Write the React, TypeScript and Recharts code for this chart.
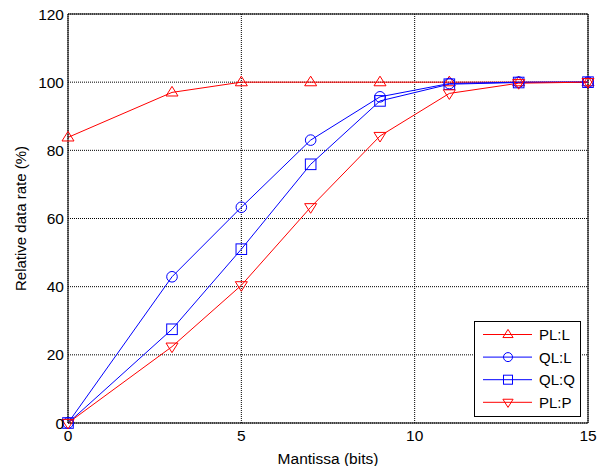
import React from "react";
import {
  CartesianGrid,
  Line,
  LineChart,
  ReferenceLine,
  XAxis,
  YAxis,
} from "recharts";

const mantissa = [0, 3, 5, 7, 9, 11, 13, 15];
const plL = [83.8, 97.0, 100, 100, 100, 100, 100, 100];
const qlL = [0, 42.9, 63.3, 83.0, 95.7, 99.6, 100, 100];
const qlQ = [0, 27.5, 51.0, 75.9, 94.5, 99.4, 99.9, 100];
const plP = [0, 22.4, 40.4, 63.3, 84.2, 96.7, 99.7, 100];

const xTicks = [0, 5, 10, 15];
const yTicks = [0, 20, 40, 60, 80, 100, 120];

const RED = "#ff0000";
const BLUE = "#0000ff";
const FONT = "'Liberation Sans', Arial, sans-serif";
const FS = 15.5;

const data = mantissa.map((m, i) => ({
  m,
  plL: plL[i],
  qlL: qlL[i],
  qlQ: qlQ[i],
  plP: plP[i],
}));

type Shape = "up" | "circle" | "square" | "down";

function marker(shape: Shape, cx: number, cy: number, color: string, key?: React.Key, s = 1) {
  const r = 6 * s;
  const common = { fill: "none", stroke: color, strokeWidth: 1 };
  if (shape === "circle") return <circle key={key} cx={cx} cy={cy} r={5.3 * s} {...common} />;
  if (shape === "square")
    return <rect key={key} x={cx - 5.3 * s} y={cy - 5.3 * s} width={10.6 * s} height={10.6 * s} {...common} />;
  if (shape === "up")
    return (
      <polygon
        key={key}
        points={`${cx},${cy - r} ${cx - r},${cy + r * 0.6} ${cx + r},${cy + r * 0.6}`}
        {...common}
      />
    );
  return (
    <polygon
      key={key}
      points={`${cx},${cy + r} ${cx - r},${cy - r * 0.6} ${cx + r},${cy - r * 0.6}`}
      {...common}
    />
  );
}

const dotFor = (shape: Shape, color: string) => (p: any) =>
  marker(shape, p.cx, p.cy, color, `${shape}-${p.index}`);

const SERIES: { key: string; name: string; color: string; shape: Shape }[] = [
  { key: "plL", name: "PL:L", color: RED, shape: "up" },
  { key: "qlL", name: "QL:L", color: BLUE, shape: "circle" },
  { key: "qlQ", name: "QL:Q", color: BLUE, shape: "square" },
  { key: "plP", name: "PL:P", color: RED, shape: "down" },
];

function LegendBox() {
  return (
    <div
      style={{
        position: "absolute",
        left: 474,
        top: 321,
        border: "1.5px solid #000",
        background: "#fff",
        width: 107,
        height: 96,
        boxSizing: "border-box",
        fontFamily: FONT,
      }}
    >
      <svg width={104} height={93} style={{ display: "block" }}>
        {SERIES.map((s, i) => {
          const y = 12.5 + i * 22.6;
          return (
            <g key={s.key}>
              <line x1={8} x2={57} y1={y} y2={y} stroke={s.color} strokeWidth={1} />
              {marker(s.shape, 33, y, s.color, undefined, 0.85)}
              <text x={64} y={y + 5.5} fill="#000" fontSize={15}>
                {s.name}
              </text>
            </g>
          );
        })}
      </svg>
    </div>
  );
}

export default function App() {
  return (
    <div style={{ position: "absolute", left: 0, top: 0, width: 601, height: 466, background: "#fff" }}>
      <LineChart
        width={601}
        height={466}
        data={data}
        margin={{ top: 14, right: 13, left: 28, bottom: 0 }}
        style={{ fontFamily: FONT }}
      >
        <CartesianGrid stroke="#000" strokeDasharray="1 1" strokeWidth={1} />
        <XAxis
          dataKey="m"
          type="number"
          domain={[0, 15]}
          ticks={xTicks}
          height={43}
          tick={{ fill: "#000", fontSize: FS }}
          tickLine={false}
          tickSize={6}
          tickMargin={1}
          axisLine={{ stroke: "#000" }}
          label={{ value: "Mantissa (bits)", position: "insideBottom", offset: 2, fill: "#000", fontSize: FS }}
        />
        <YAxis
          type="number"
          domain={[0, 120]}
          ticks={yTicks}
          width={40}
          tick={{ fill: "#000", fontSize: FS }}
          tickLine={false}
          tickSize={4}
          tickMargin={0}
          axisLine={{ stroke: "#000" }}
          label={{
            value: "Relative data rate (%)",
            angle: -90,
            position: "insideLeft",
            offset: -7,
            style: { textAnchor: "middle" },
            fill: "#000",
            fontSize: 15,
          }}
        />
        <ReferenceLine y={120} stroke="#000" />
        <ReferenceLine x={15} stroke="#000" />
        {SERIES.map((s) => (
          <Line
            key={s.key}
            dataKey={s.key}
            name={s.name}
            type="linear"
            stroke={s.color}
            strokeWidth={1}
            dot={dotFor(s.shape, s.color)}
            activeDot={false}
            isAnimationActive={false}
          />
        ))}
      </LineChart>
      <LegendBox />
    </div>
  );
}
